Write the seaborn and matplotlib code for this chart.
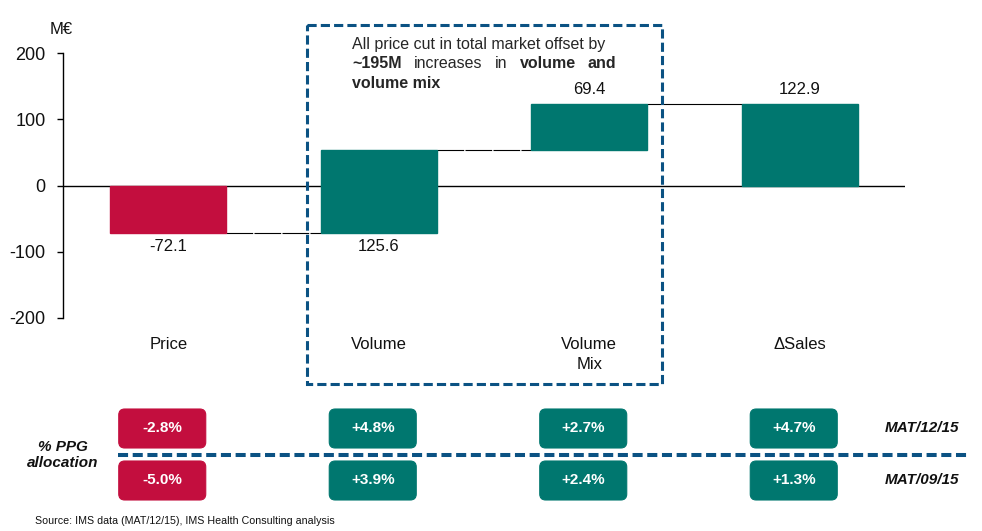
import matplotlib.pyplot as plt
import seaborn as sns
from matplotlib.patches import FancyBboxPatch, Rectangle

# waterfall data (M€)
categories = ["Price", "Volume", "Volume\nMix", "ΔSales"]
changes = [-72.1, 125.6, 69.4, 122.9]
bottoms = [0, -72.1, 53.5, 0]
value_labels = ["-72.1", "125.6", "69.4", "122.9"]
label_side = ["below", "below", "above", "above"]
yticks = [-200, -100, 0, 100, 200]

# % PPG allocation table
ppg_mat_12_15 = ["-2.8%", "+4.8%", "+2.7%", "+4.7%"]
ppg_mat_09_15 = ["-5.0%", "+3.9%", "+2.4%", "+1.3%"]
periods = ["MAT/12/15", "MAT/09/15"]

RED = "#C30E3E"
TEAL = "#00776F"
BLUE = "#0B5283"
bar_colors = [RED, TEAL, TEAL, TEAL]

sns.set_theme(style="white")
plt.rcParams['font.family'] = ['Liberation Sans', 'DejaVu Sans']

fig = plt.figure(figsize=(9.82, 5.31), dpi=100)
ax = fig.add_axes([63 / 982, 1 - 318 / 531, 842 / 982, 265 / 531])

bar_w = 0.551
sns.barplot(x=categories, y=changes, bottom=bottoms, width=bar_w, errorbar=None,
            color=TEAL, saturation=1, ax=ax, zorder=2)
for patch, c in zip(ax.patches, bar_colors):
    patch.set_facecolor(c)
    patch.set_edgecolor(c)

ax.set_xlim(-0.5, 3.5)
ax.set_ylim(-200, 200)
ax.set_yticks(yticks)
ax.set_yticklabels([str(t) for t in yticks])
ax.set_xlabel('')
ax.set_ylabel('')
ax.axhline(0, color='black', lw=1, zorder=1)

sns.despine(ax=ax, bottom=True)
ax.spines['left'].set_color('black')
ax.spines['left'].set_linewidth(1)
ax.tick_params(axis='y', left=True, length=4.5, width=1, color='black',
               pad=8, labelsize=13, labelcolor='#111111')
ax.tick_params(axis='x', bottom=False, length=0, pad=14, labelsize=12,
               labelcolor='#111111')
for lbl in ax.get_xticklabels():
    lbl.set_linespacing(1.4)

# value labels
for i, (b, h, txt, side) in enumerate(zip(bottoms, changes, value_labels, label_side)):
    if side == "below":
        ax.annotate(txt, (i, min(b, b + h)), xytext=(0, -9.5), textcoords='offset points',
                    ha='center', va='center', fontsize=12, color='#111111')
    else:
        ax.annotate(txt, (i, max(b, b + h)), xytext=(0, 10.5), textcoords='offset points',
                    ha='center', va='center', fontsize=12, color='#111111')

# connectors between bars
for i in range(3):
    level = bottoms[i] + changes[i] if i < 2 else bottoms[i + 1] + changes[i + 1]
    x0, x1 = i + bar_w / 2, i + 1 - bar_w / 2
    if i < 2:
        ax.plot([x0, x1], [level, level], color='black', lw=0.8, dashes=(24, 1.2), zorder=1)
    else:
        ax.plot([x0, x1], [level, level], color='black', lw=0.8, zorder=1)

# overlay in pixel units for annotations and the table
ov = fig.add_axes([0, 0, 1, 1], zorder=5)
ov.set_xlim(0, 982)
ov.set_ylim(531, 0)
ov.axis('off')

ov.text(50, 29.5, "M€", fontsize=12, ha='left', va='center', color='#111111')

ov.add_patch(Rectangle((307, 25), 355, 359, fill=False, edgecolor=BLUE, lw=2.2,
                       linestyle=(0, (3.0, 1.35))))

fs = 11.5
ov.text(352, 45, "All price cut in total market offset by", fontsize=fs, va='center', ha='left')
for word, x, bold in [("~195M", 352, True), ("increases", 414, False), ("in", 495, False),
                      ("volume", 520, True), ("and", 588, True)]:
    ov.text(x, 64, word, fontsize=fs, va='center', ha='left',
            fontweight='bold' if bold else 'normal')
ov.text(352, 83, "volume mix", fontsize=fs, va='center', ha='left', fontweight='bold')

# % PPG allocation boxes
box_w, box_h = 87, 39
rows = [(409, ppg_mat_12_15), (461, ppg_mat_09_15)]
for i in range(len(categories)):
    cx = ax.transData.transform((i, 0))[0] - 6
    for y0, vals in rows:
        c = RED if vals[i].startswith('-') else TEAL
        ov.add_patch(FancyBboxPatch((cx - box_w / 2, y0), box_w, box_h,
                                    boxstyle="round,pad=0,rounding_size=6",
                                    facecolor=c, edgecolor=c, lw=0.8))
        ov.text(cx, y0 + box_h / 2, vals[i], fontsize=11, fontweight='bold',
                color='white', ha='center', va='center')

ov.plot([118, 970], [455, 455], color=BLUE, lw=2.9, dashes=(2.5, 1.15))

ov.text(63, 447, "% PPG", fontsize=11, fontweight='bold', fontstyle='italic',
        ha='center', va='center', color='#111111')
ov.text(63, 463, "allocation", fontsize=11, fontweight='bold', fontstyle='italic',
        ha='center', va='center', color='#111111')
for (y0, _), p in zip(rows, periods):
    ov.text(885, y0 + box_h / 2, p, fontsize=11, fontweight='bold', fontstyle='italic',
            ha='left', va='center', color='#111111')

ov.text(35, 521, "Source: IMS data (MAT/12/15), IMS Health Consulting analysis",
        fontsize=7.7, ha='left', va='center', color='#111111')

fig.savefig('out.png', dpi=100)
plt.close(fig)
